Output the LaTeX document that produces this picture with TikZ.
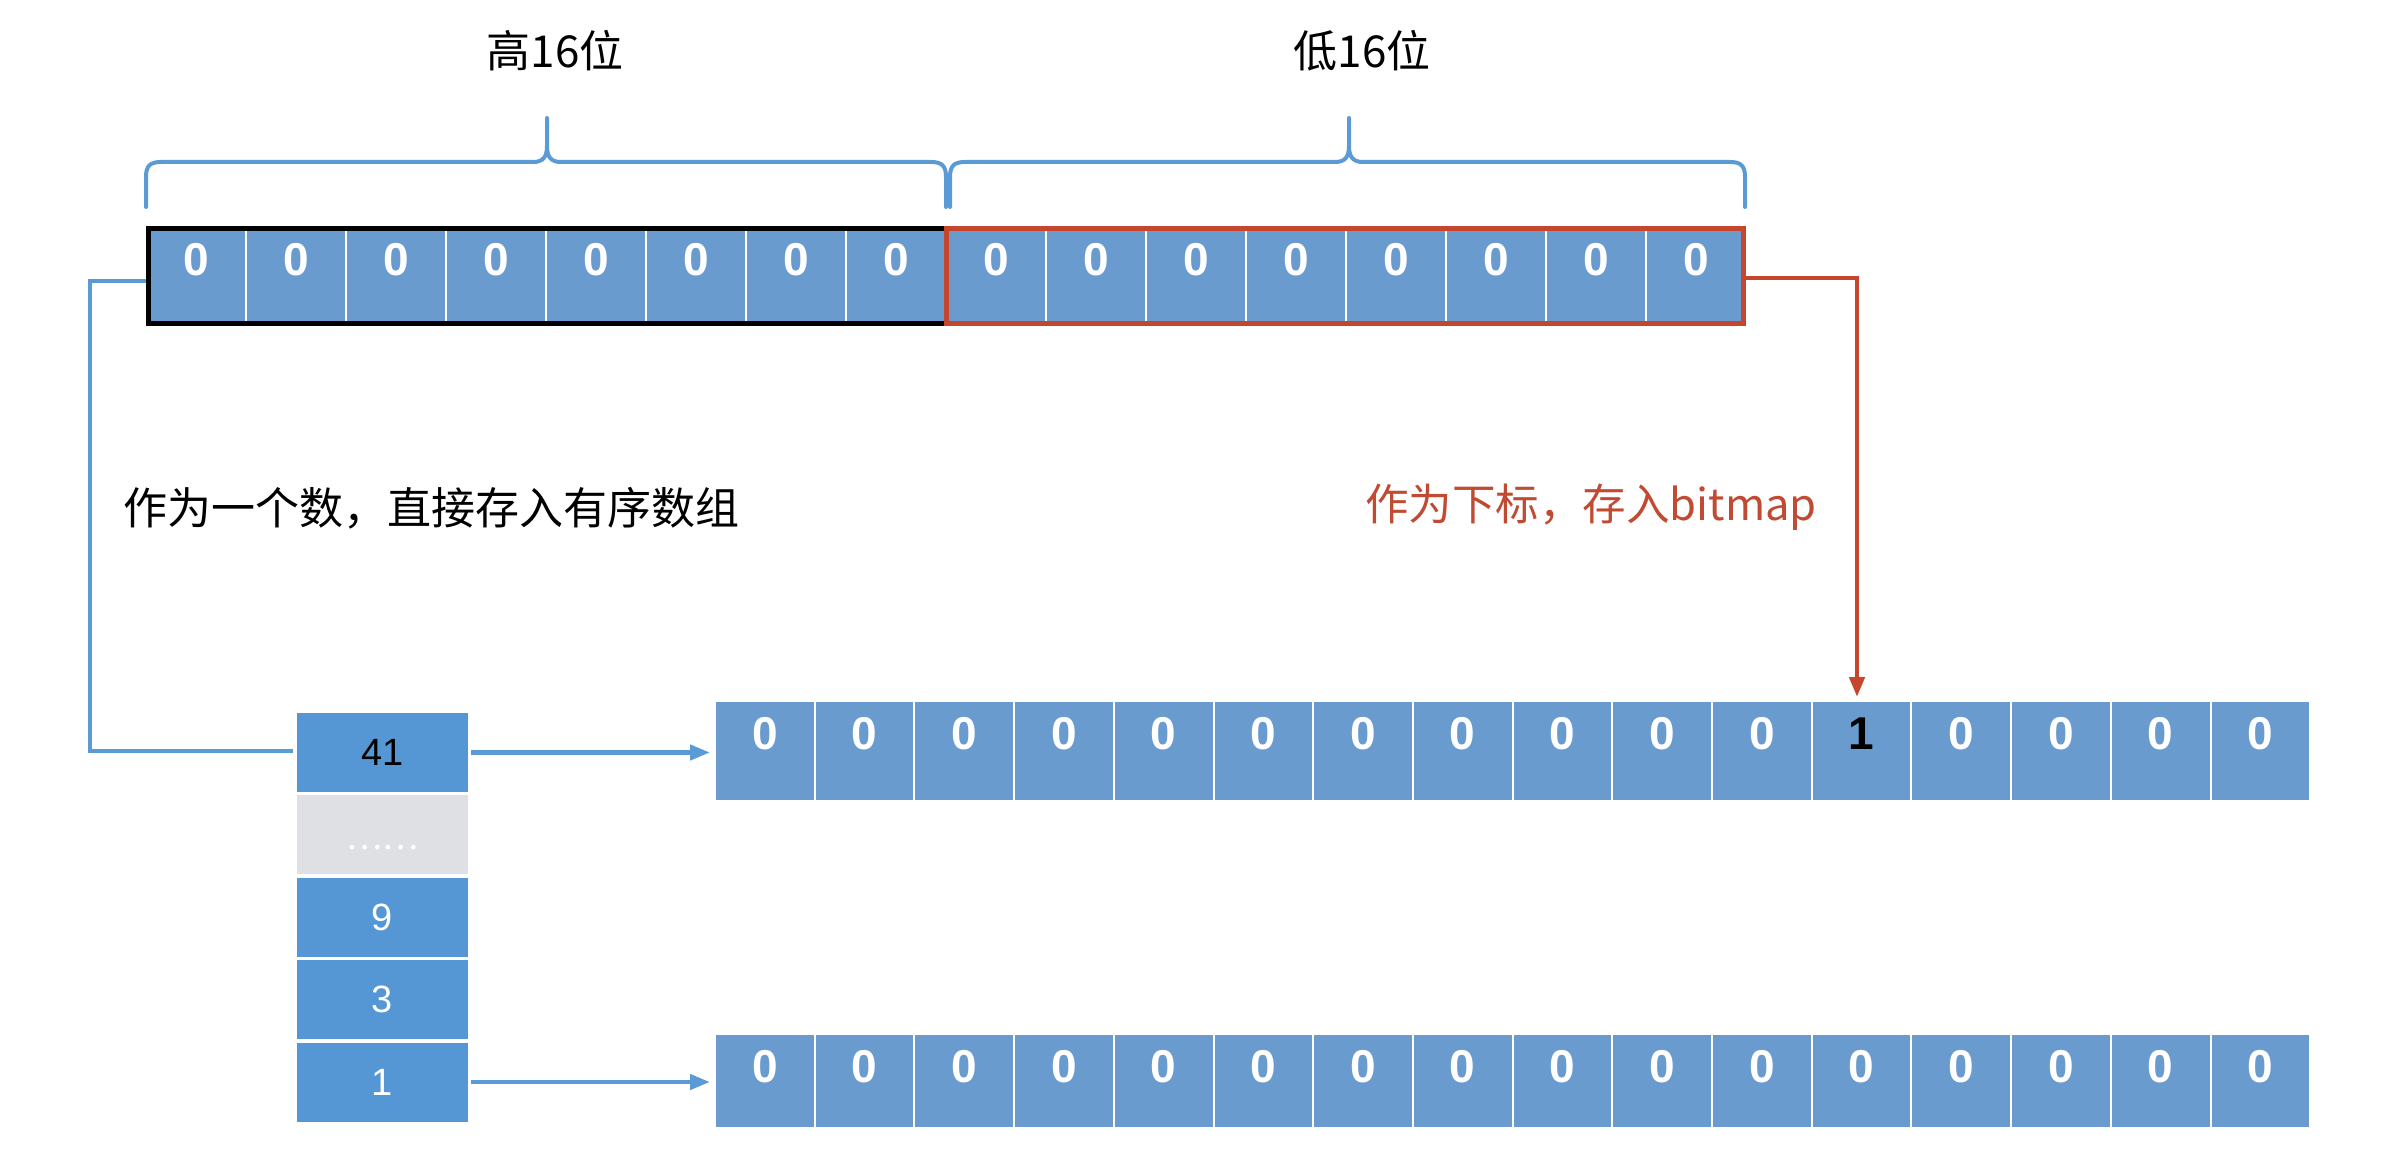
\documentclass[tikz,border=0pt]{standalone}
\usepackage{fontspec}
\setmainfont{Liberation Sans}
\newfontfamily\cjk{Noto Sans CJK SC}
\usetikzlibrary{arrows.meta}
\definecolor{cellblue}{HTML}{6A9BCE}
\definecolor{colblue}{HTML}{5597D5}
\definecolor{linkblue}{HTML}{5B9BD5}
\definecolor{dotgray}{HTML}{DEE0E4}
\definecolor{redc}{HTML}{C5452D}
\definecolor{redtext}{HTML}{C04A32}
\newcommand{\bracedraw}[3]{%
  \draw[bracestyle] (#1,207) -- (#1,177) .. controls (#1,166) and ({#1+4},162) .. ({#1+15},162)
     -- ({#2-14},162) .. controls ({#2-4},162) and (#2,157) .. (#2,146) -- (#2,118);
  \draw[bracestyle] (#3,207) -- (#3,177) .. controls (#3,166) and ({#3-4},162) .. ({#3-15},162)
     -- ({#2+14},162) .. controls ({#2+4},162) and (#2,157) .. (#2,146);
}
\begin{document}
\begin{tikzpicture}[x=1pt,y=-1pt,
  cellbox/.style={draw=white,line width=2pt,fill=cellblue,minimum width=100pt,minimum height=100pt,inner sep=0pt,outer sep=0pt,anchor=north west},
  bitbox/.style={draw=white,line width=2pt,fill=cellblue,minimum width=99.7pt,inner sep=0pt,outer sep=0pt,anchor=north west},
  digit/.style={text=white,font=\fontsize{46pt}{50pt}\selectfont\bfseries,inner sep=0pt},
  colbox/.style={fill=colblue,minimum width=171pt,minimum height=79pt,inner sep=0pt,outer sep=0pt,text=white,font=\fontsize{38pt}{42pt}\selectfont},
  bracestyle/.style={draw=linkblue,line width=4pt,line join=round,line cap=round},
  conn/.style={draw=linkblue,line width=4.5pt},
  connarrow/.style={conn,-{Triangle[length=20pt,width=15pt]},shorten <=3pt,shorten >=5pt},
  redconn/.style={draw=redc,line width=4.5pt,-{Triangle[length=20pt,width=15pt]},shorten >=4pt},
  label/.style={font=\cjk\fontsize{44pt}{50pt}\selectfont,inner sep=0pt}
]
\useasboundingbox (0,0) rectangle (2406,1150);

% titles
\node[label] (hightitle) at (555,51) {高16位};
\node[label] (lowtitle) at (1362,51) {低16位};

% braces
\bracedraw{146}{547}{946}
\bracedraw{950}{1349}{1745}

% top 32-bit array
\foreach \i in {0,...,15} {
  \node[cellbox] (t\i) at ({146+100*\i},226) {};
  \node[digit] (td\i) at ([yshift=16pt]t\i.center) {0};
}
\draw[black,line width=5pt] (148.5,228.5) rectangle (946,323.5);
\draw[redc,line width=5pt] (946,228.5) rectangle (1743.5,323.5);

% labels
\node[label,anchor=west] (leftlabel) at (123,508) {作为一个数，直接存入有序数组};
\node[label,text=redtext,font=\cjk\fontsize{43.5pt}{50pt}\selectfont] (rightlabel) at (1591,507) {作为下标，存入bitmap};

% sorted array column
\node[colbox,text=black] (n41) at (382.5,752.5) {41};
\node[colbox,fill=dotgray] (ndots) at (382.5,834.5) {};
\node[inner sep=0pt,text=white,font=\cjk\fontsize{34pt}{36pt}\selectfont] (dotstext) at (382.5,848) {……};
\node[colbox] (n9) at (382.5,917.5) {9};
\node[colbox] (n3) at (382.5,999.5) {3};
\node[colbox] (n1) at (382.5,1082) {1};

% bitmap rows
\foreach \i in {0,...,15} {
  \node[bitbox,minimum height=100pt] (a\i) at ({715+99.7*\i},701) {};
  \node[bitbox,minimum height=94pt] (b\i) at ({715+99.7*\i},1034) {};
  \node[digit] (bd\i) at ([yshift=-33pt]b\i.north) {0};
}
\foreach \i in {0,...,10,12,13,14,15} {
  \node[digit] (ad\i) at ([yshift=-33pt]a\i.north) {0};
}
\node[digit,text=black] (ad11) at ([yshift=-33pt]a11.north) {1};

% connectors
\coordinate (lc1) at (90,281);
\coordinate (lc2) at (90,751);
\draw[conn,line join=miter] (lc1 -| t0.west) -- (lc1) -- (lc2) -- ([xshift=-4pt]lc2 -| n41.west);
\draw[connarrow] (n41.east) -- (n41.east -| a0.west);
\draw[connarrow] (n1.east) -- (n1.east -| b0.west);

\coordinate (rc) at (1857,278);
\draw[redconn,line join=miter] (rc -| t15.east) -- (rc) -- (rc |- a11.north);
\end{tikzpicture}
\end{document}
